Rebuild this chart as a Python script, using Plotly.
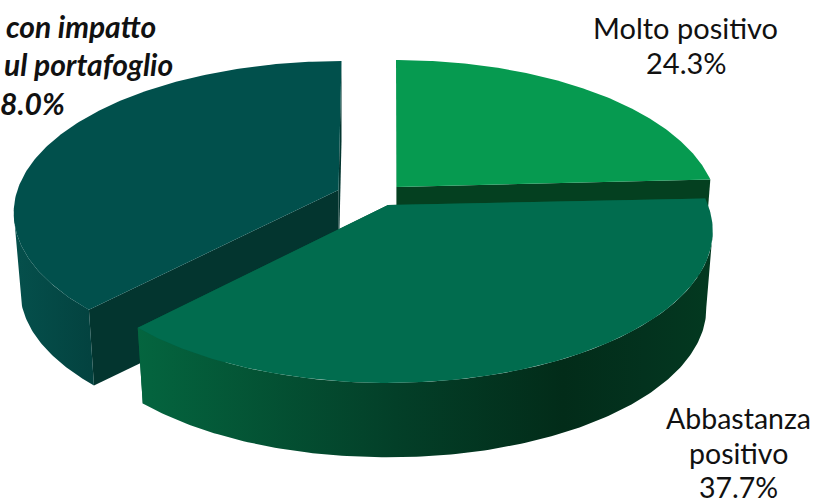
import numpy as np
import plotly.graph_objects as go

W, H = 814, 503
categories = ["Molto positivo", "Abbastanza positivo", "Negativo o con impatto nullo sul portafoglio"]
values = [24.3, 37.7, 38.0]
top_colors = ["#069A50", "#016C4E", "#01504C"]
radial_colors = ["#044020", "#025C3E", "#03352F"]
# outer-wall colour stops, left to right
wall_stops = [
    [[0, "#044020"], [1, "#044020"]],
    [[0, "#04653F"], [0.45, "#033F28"], [0.74, "#022C19"], [0.88, "#03321E"], [1, "#033920"]],
    [[0, "#05504C"], [1, "#03423F"]],
]
# slice placement in pixels: rim centre x, y, radius x, apex x, apex y
rim_cx = [396.0, 388.0, 341.5]
rim_cy = [186.0, 205.0, 187.0]
rim_rx = [317.0, 320.0, 323.0]
apex_x = [396.5, 388.0, 338.5]
apex_y = [187.0, 205.0, 190.0]
BACK_Y = 147.5
PERSP = 0.171
DEPTH = 78.0
SHRINK = 0.98

fig = go.Figure()


def rim(i, deg):
    t = np.radians(deg)
    X, Y = np.sin(t), np.cos(t)
    s = 1.0 / (1.0 + PERSP * Y)
    return rim_cx[i] + rim_rx[i] * X * s, rim_cy[i] - BACK_Y * Y * s


def down(i, x, y):
    return rim_cx[i] + (x - rim_cx[i]) * SHRINK, rim_cy[i] + DEPTH + (y - rim_cy[i]) * SHRINK


def poly(x, y, color, stops=None):
    kw = dict(fillcolor=color)
    if stops is not None:
        kw = dict(fillgradient=dict(type="horizontal", colorscale=stops))
    fig.add_trace(go.Scatter(x=list(x), y=list(y), mode="lines", fill="toself",
                             line=dict(color="rgba(0,0,0,0)", width=0), hoverinfo="skip",
                             showlegend=False, **kw))


cum = np.cumsum([0] + values) * 3.6
for i in [0, 2, 1]:
    a0, a1 = cum[i], cum[i + 1]
    degs = np.linspace(a0, a1, 181)
    rx, ry = rim(i, degs)
    # radial walls
    for end in (a0, a1):
        ex, ey = rim(i, end)
        bx, by = down(i, ex, ey)
        ax_, ay_ = down(i, apex_x[i], apex_y[i])
        poly([apex_x[i], ex, bx, ax_], [apex_y[i], ey, by, ay_], radial_colors[i])
    # outer wall, only the part that faces the viewer (between the silhouette points)
    if i == 1:
        fx, fy = rx[np.argmax(rx):], ry[np.argmax(rx):]
    elif i == 2:
        fx, fy = rx[:np.argmin(rx) + 1], ry[:np.argmin(rx) + 1]
    else:
        fx, fy = rx[:0], ry[:0]
    if len(fx):
        bx, by = down(i, fx, fy)
        poly(np.r_[fx, bx[::-1], fx[0]], np.r_[fy, by[::-1], fy[0]], None, wall_stops[i])
    # top face
    poly(np.r_[apex_x[i], rx, apex_x[i]], np.r_[apex_y[i], ry, apex_y[i]], top_colors[i])

dark = "#111111"
labels = [
    ("Molto positivo", 685, 27, "center", "normal", "normal", 29),
    ("24.3%", 686, 62, "center", "normal", "normal", 29),
    ("Abbastanza", 738, 418, "center", "normal", "normal", 28.5),
    ("positivo", 738, 452.5, "center", "normal", "normal", 28.5),
    ("37.7%", 738, 486.8, "center", "normal", "normal", 28.5),
    ("con impatto", 158, 26, "right", "bold", "italic", 30),
    ("ul portafoglio", 175, 64, "right", "bold", "italic", 30),
    ("8.0%", 67, 103, "right", "bold", "italic", 30),
]
for text, x, y, anchor, weight, style, size in labels:
    fig.add_annotation(x=x, y=y, xref="x", yref="y", text=text, showarrow=False, xanchor=anchor, yanchor="middle",
                       font=dict(family="Lato", size=size, color=dark, weight=weight, style=style))

fig.update_layout(width=W, height=H, margin=dict(l=0, r=0, t=0, b=0), paper_bgcolor="white", plot_bgcolor="white",
                  xaxis=dict(range=[0, W], visible=False, fixedrange=True),
                  yaxis=dict(range=[H, 0], visible=False, fixedrange=True))
fig.write_html("out.html", config=dict(displayModeBar=False),
               post_script="document.body.style.margin='0';document.body.style.overflow='hidden';")
